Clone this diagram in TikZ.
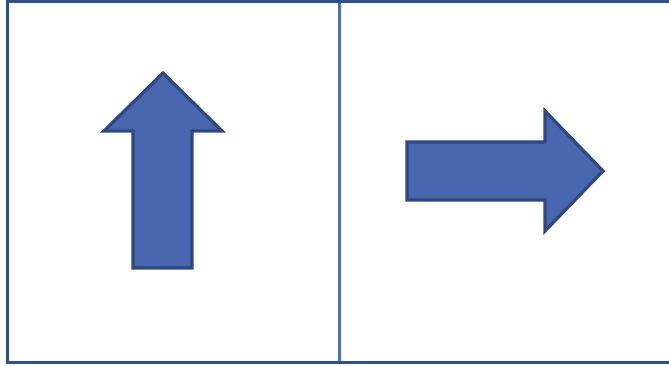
\documentclass[tikz,border=0pt]{standalone}
\definecolor{framecol}{RGB}{47,82,143}
\definecolor{dividercol}{RGB}{78,110,184}
\definecolor{arrowfill}{RGB}{72,103,174}
\definecolor{arrowline}{RGB}{47,72,130}
\tikzset{
  frameline/.style={draw=framecol, line width=3.6pt},
  dividerline/.style={draw=dividercol, line width=2.6pt},
  blockarrow/.style={fill=arrowfill, draw=arrowline, line width=3.2pt, line join=miter}
}
\begin{document}
\begin{tikzpicture}[x=1pt,y=-1pt]
\useasboundingbox (0,0) rectangle (669,365);
% outer frame (right side cut off)
\draw[frameline] (669,1) -- (7.5,1) -- (7.5,362.5) -- (669,362.5);
% divider
\draw[dividerline] (339.5,2.5) -- (339.5,361);
% up arrow
\draw[blockarrow] (163,73) -- (222,131) -- (192,131) -- (192,268) -- (133,268) -- (133,131) -- (104,131) -- cycle;
% right arrow
\draw[blockarrow] (407,142) -- (545,142) -- (545,111) -- (603,171) -- (545,231) -- (545,200) -- (407,200) -- cycle;
\end{tikzpicture}
\end{document}
